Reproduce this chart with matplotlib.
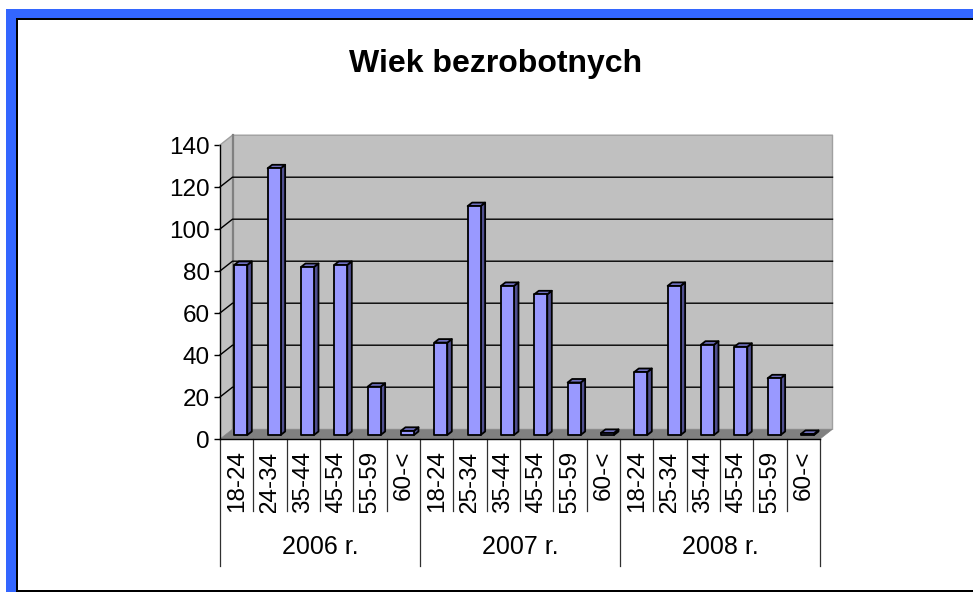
import matplotlib
matplotlib.use("Agg")
import matplotlib.pyplot as plt
from matplotlib.patches import Polygon, Rectangle

plt.rcParams["font.family"] = ["Liberation Sans", "DejaVu Sans"]

W, H = 973, 592
years = ["2006 r.", "2007 r.", "2008 r."]
ages = ["18-24", "24-34", "35-44", "45-54", "55-59", "60-<",
        "18-24", "25-34", "35-44", "45-54", "55-59", "60-<",
        "18-24", "25-34", "35-44", "45-54", "55-59", "60-<"]
values = [81, 127, 80, 81, 23, 2,
          44, 109, 71, 67, 25, 1,
          30, 71, 43, 42, 27, 0.5]
yticks = [0, 20, 40, 60, 80, 100, 120, 140]

# pixels -> data units
PX_X = 600 / 18
PX_Y = 294 / 140
DX, DY = 12.5 / PX_X, 9.8 / PX_Y      # wall depth
BAR_W = 13 / PX_X
BAR_OFF = 14.3 / PX_X
BAR_DX, BAR_DY = 4.5 / PX_X, 3.5 / PX_Y
BASE = 4 / PX_Y

fig = plt.figure(figsize=(W / 100, H / 100), dpi=100, facecolor="white")

# page frame, in pixels
bg = fig.add_axes([0, 0, 1, 1], zorder=0)
bg.set_xlim(0, W); bg.set_ylim(H, 0); bg.axis("off")
bg.add_patch(Rectangle((6, 9), W - 6, H - 9, fc="#3366FF", ec="none"))
bg.add_patch(Rectangle((16, 18), W - 16, H - 18, fc="black", ec="none"))
bg.add_patch(Rectangle((18, 20), W - 18, H - 22, fc="white", ec="none"))

ax = fig.add_axes([220 / W, 1 - 439 / H, 600 / W, 294 / H], zorder=1)
ax.patch.set_visible(False)
ax.set_xlim(0, 18)
ax.set_ylim(0, 140)
for s in ("top", "right"):
    ax.spines[s].set_visible(False)
ax.spines["left"].set_linewidth(1.0)
ax.spines["bottom"].set_linewidth(1.0)
ax.spines["left"].set_zorder(6)
ax.spines["bottom"].set_zorder(6)
ax.set_xticks([])
ax.set_yticks(yticks)
ax.tick_params(axis="y", length=4.5, width=1.0, pad=3, labelsize=17.5)

# walls and floor
ymax = 140
ax.add_patch(Polygon([(DX, DY), (18 + DX, DY), (18 + DX, ymax + DY), (DX, ymax + DY)],
                     fc="#C0C0C0", ec="none", clip_on=False, zorder=1))
ax.add_patch(Polygon([(0, 0), (DX, DY), (DX, ymax + DY), (0, ymax)],
                     fc="#C0C0C0", ec="none", clip_on=False, zorder=1))
ax.add_patch(Polygon([(0, 0), (18, 0), (18 + DX, DY), (DX, DY)],
                     fc="#808080", ec="#808080", lw=0.5, clip_on=False, zorder=2))
ax.plot([0, DX, 18 + DX, 18 + DX], [ymax, ymax + DY, ymax + DY, DY], color="#A0A0A0", lw=1.0,
        clip_on=False, zorder=2)
ax.plot([DX, DX], [DY, ymax + DY], color="#808080", lw=1.6, clip_on=False, zorder=2)
for v in yticks[1:-1]:
    ax.plot([0, DX, 18 + DX], [v, v + DY, v + DY], color="black", lw=1.0,
            clip_on=False, zorder=2)

# bars
for i, v in enumerate(values):
    x0, x1 = i + BAR_OFF, i + BAR_OFF + BAR_W
    y0, y1 = BASE, BASE + v
    kw = dict(ec="black", lw=1.3, joinstyle="round", clip_on=False, zorder=4)
    ax.add_patch(Polygon([(x1, y0), (x1 + BAR_DX, y0 + BAR_DY), (x1 + BAR_DX, y1 + BAR_DY), (x1, y1)],
                         fc="#4F4F8F", **kw))
    ax.add_patch(Polygon([(x0, y1), (x1, y1), (x1 + BAR_DX, y1 + BAR_DY), (x0 + BAR_DX, y1 + BAR_DY)],
                         fc="#7070C0", **kw))
    ax.add_patch(Polygon([(x0, y0), (x1, y0), (x1, y1), (x0, y1)], fc="#9999FF", **kw))

# category labels, clipped at the short separators as in the original
SEP_C = -72 / PX_Y
SEP_G = -127 / PX_Y
clip = Rectangle((0, SEP_C - 2 / PX_Y), 18, -SEP_C + 2 / PX_Y, transform=ax.transData)
for i, lab in enumerate(ages):
    t = ax.text(i + 0.5, -11.5 / PX_Y, lab, rotation=90, ha="center", va="top", fontsize=17.5)
    t.set_clip_path(clip)
    t.set_clip_on(True)
for i in range(19):
    bottom = SEP_G if i % 6 == 0 else SEP_C
    ax.plot([i, i], [0, bottom], color="#303030", lw=0.9, clip_on=False, zorder=3)
for k, y in enumerate(years):
    ax.text(6 * k + 3, -108 / PX_Y, y, ha="center", va="center", fontsize=18)

fig.text(495.5 / W, 1 - 64 / H, "Wiek bezrobotnych", ha="center", va="center",
         fontsize=23, fontweight="bold")

fig.savefig("out.png", dpi=100)
